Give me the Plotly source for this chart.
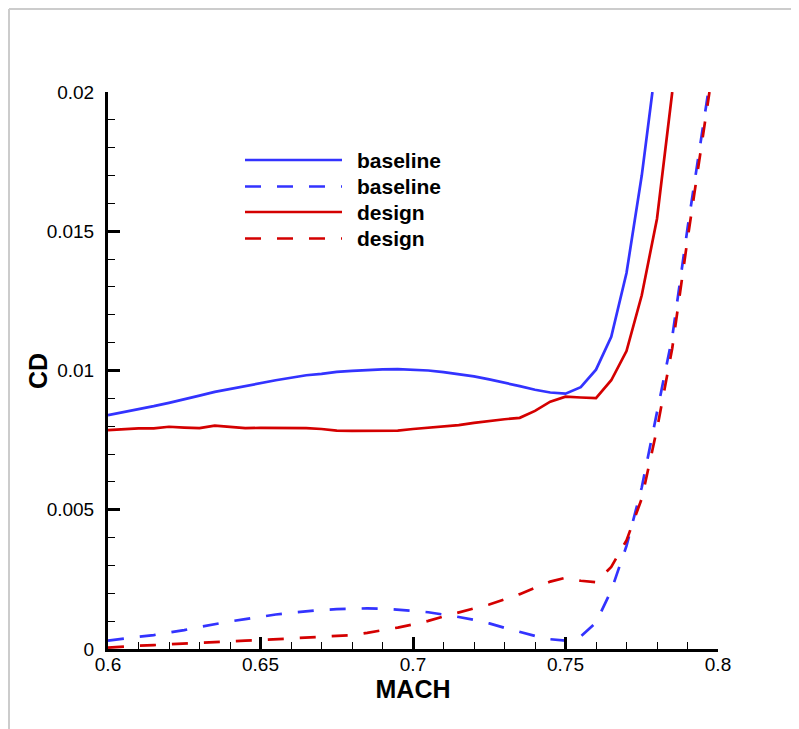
import plotly.graph_objects as go

# ---------------- data ----------------
mach_base = [0.600, 0.605, 0.610, 0.615, 0.620, 0.625, 0.630, 0.635, 0.640, 0.645,
             0.650, 0.655, 0.660, 0.665, 0.670, 0.675, 0.680, 0.685, 0.690, 0.695,
             0.700, 0.705, 0.710, 0.715, 0.720, 0.725, 0.730, 0.735, 0.740, 0.745,
             0.750, 0.755, 0.760, 0.765, 0.770, 0.775, 0.7785]
cd_base = [0.00840, 0.00850, 0.00861, 0.00872, 0.00884, 0.00898, 0.00910, 0.00923, 0.00934, 0.00945,
           0.00955, 0.00965, 0.00974, 0.00983, 0.00988, 0.00995, 0.00999, 0.01002, 0.01004, 0.01005,
           0.01003, 0.01000, 0.00994, 0.00987, 0.00979, 0.00968, 0.00957, 0.00944, 0.00931, 0.00921,
           0.00917, 0.00940, 0.01003, 0.01121, 0.01350, 0.01700, 0.02000]

mach_design = [0.600, 0.605, 0.610, 0.615, 0.620, 0.625, 0.630, 0.635, 0.640, 0.645,
               0.650, 0.655, 0.660, 0.665, 0.670, 0.675, 0.680, 0.685, 0.690, 0.695,
               0.700, 0.705, 0.710, 0.715, 0.720, 0.725, 0.730, 0.735, 0.740, 0.745,
               0.750, 0.755, 0.760, 0.765, 0.770, 0.775, 0.780, 0.785]
cd_design = [0.00786, 0.00790, 0.00792, 0.00792, 0.00798, 0.00795, 0.00793, 0.00802, 0.00797, 0.00793,
             0.00794, 0.00794, 0.00795, 0.00793, 0.00790, 0.00784, 0.00783, 0.00783, 0.00783, 0.00784,
             0.00790, 0.00794, 0.00798, 0.00804, 0.00812, 0.00819, 0.00825, 0.00830, 0.00855, 0.00888,
             0.00906, 0.00903, 0.00901, 0.00965, 0.01070, 0.01270, 0.01545, 0.02000]

mach_base_d = [0.600, 0.605, 0.610, 0.615, 0.620, 0.625, 0.630, 0.635, 0.640, 0.645,
               0.650, 0.655, 0.660, 0.665, 0.670, 0.675, 0.680, 0.685, 0.690, 0.695,
               0.700, 0.705, 0.710, 0.715, 0.720, 0.725, 0.730, 0.735, 0.740, 0.745,
               0.750, 0.755, 0.760, 0.765, 0.770, 0.775, 0.780, 0.785, 0.790, 0.795, 0.7968]
cd_base_d = [0.00030, 0.00038, 0.00044, 0.00050, 0.00058, 0.00068, 0.00079, 0.00090, 0.00099, 0.00107,
             0.00116, 0.00124, 0.00130, 0.00136, 0.00140, 0.00143, 0.00145, 0.00146, 0.00145, 0.00142,
             0.00137, 0.00132, 0.00124, 0.00115, 0.00105, 0.00092, 0.00076, 0.00061, 0.00047, 0.00035,
             0.00030, 0.00045, 0.00095, 0.00210, 0.00370, 0.00580, 0.00850, 0.01120, 0.01510, 0.01870, 0.02000]

mach_design_d = [0.600, 0.605, 0.610, 0.615, 0.620, 0.625, 0.630, 0.635, 0.640, 0.645,
                 0.650, 0.655, 0.660, 0.665, 0.670, 0.675, 0.680, 0.685, 0.690, 0.695,
                 0.700, 0.705, 0.710, 0.715, 0.720, 0.725, 0.730, 0.735, 0.740, 0.745,
                 0.750, 0.755, 0.760, 0.765, 0.770, 0.775, 0.780, 0.785, 0.790, 0.795, 0.7972]
cd_design_d = [0.00005, 0.00009, 0.00012, 0.00014, 0.00017, 0.00019, 0.00022, 0.00025, 0.00028, 0.00030,
               0.00032, 0.00035, 0.00037, 0.00040, 0.00043, 0.00046, 0.00050, 0.00058, 0.00067, 0.00077,
               0.00088, 0.00101, 0.00117, 0.00131, 0.00144, 0.00160, 0.00178, 0.00197, 0.00220, 0.00242,
               0.00256, 0.00245, 0.00240, 0.00295, 0.00390, 0.00540, 0.00790, 0.01080, 0.01470, 0.01830, 0.02000]

x_ticks = [0.6, 0.65, 0.7, 0.75, 0.8]
y_ticks = [0, 0.005, 0.01, 0.015, 0.02]
legend_labels = ["baseline", "baseline", "design", "design"]

BLUE = "#3333FF"
RED = "#D40000"
DASH = "16px,16px"
FONT = "Liberation Sans, Arial, sans-serif"

fig = go.Figure()
series = [
    (mach_base, cd_base, BLUE, "solid", "baseline"),
    (mach_base_d, cd_base_d, BLUE, DASH, "baseline"),
    (mach_design, cd_design, RED, "solid", "design"),
    (mach_design_d, cd_design_d, RED, DASH, "design"),
]
for xs, ys, col, dash, name in series:
    fig.add_trace(go.Scatter(x=xs, y=ys, mode="lines", name=name, showlegend=False,
                             line=dict(color=col, width=2.7, dash=dash)))

# geometry (figure pixels; the page adds an 8px body margin)
OFF = 8
W, H = 799, 729
L, T = 108 - OFF, 92 - OFF
pw, ph = 610, 557
R = W - L - pw
B = H - T - ph

def px(xp):  # page x -> paper
    return (xp - OFF - L) / pw

def py(yp):  # page y -> paper
    return (T + ph - (yp - OFF)) / ph

shapes = []
annotations = []
# manual legend
leg_rows = [160, 186.5, 212, 238.5]
leg_styles = [(BLUE, "solid"), (BLUE, DASH), (RED, "solid"), (RED, DASH)]
for yrow, (col, dash), lab in zip(leg_rows, leg_styles, legend_labels):
    shapes.append(dict(type="line", xref="paper", yref="paper",
                       x0=px(245), x1=px(342), y0=py(yrow), y1=py(yrow),
                       line=dict(color=col, width=2.7, dash=dash)))
    annotations.append(dict(xref="paper", yref="paper", x=px(355), y=py(yrow),
                            xanchor="left", yanchor="middle", showarrow=False,
                            text="<b>%s</b>" % lab,
                            font=dict(family=FONT, size=21, color="black")))

# y-axis title placed as rotated text
annotations.append(dict(xref="paper", yref="paper", x=px(38), y=py(371),
                        xanchor="center", yanchor="middle", showarrow=False,
                        textangle=-90, text="<b>CD</b>",
                        font=dict(family=FONT, size=25, color="black")))

# light page border (top and left)
shapes.append(dict(type="line", xref="paper", yref="paper", x0=px(OFF + 1), x1=px(OFF + 800),
                   y0=py(OFF + 1), y1=py(OFF + 1), line=dict(color="#cccccc", width=2)))
shapes.append(dict(type="line", xref="paper", yref="paper", x0=px(OFF + 1), x1=px(OFF + 1),
                   y0=py(OFF + 1), y1=py(OFF + 740), line=dict(color="#cccccc", width=2)))

fig.update_layout(
    width=W, height=H,
    margin=dict(l=L, r=R, t=T, b=B),
    paper_bgcolor="white", plot_bgcolor="white",
    font=dict(family=FONT, size=18, color="black"),
    shapes=shapes, annotations=annotations,
    showlegend=False,
)
fig.update_xaxes(
    range=[0.6, 0.8], tickvals=x_ticks, ticktext=[str(v) for v in x_ticks],
    showgrid=False, zeroline=False,
    showline=True, linecolor="black", linewidth=3, mirror=False,
    ticks="inside", ticklen=12, tickwidth=2.5, tickcolor="black",
    minor=dict(dtick=0.01, ticks="inside", ticklen=7, tickwidth=1.2, tickcolor="black", showgrid=False),
    tickfont=dict(size=19), ticklabelstandoff=-4,
    title=dict(text="<b>MACH</b>", font=dict(size=25), standoff=4),
)
fig.update_yaxes(
    range=[0, 0.02], tickvals=y_ticks, ticktext=["0", "0.005", "0.01", "0.015", "0.02"],
    showgrid=False, zeroline=False,
    showline=True, linecolor="black", linewidth=3, mirror=False,
    ticks="inside", ticklen=12, tickwidth=2.5, tickcolor="black",
    minor=dict(dtick=0.001, ticks="inside", ticklen=7, tickwidth=1.2, tickcolor="black", showgrid=False),
    tickfont=dict(size=19), ticklabelstandoff=7,
)

fig.write_html("out.html")
